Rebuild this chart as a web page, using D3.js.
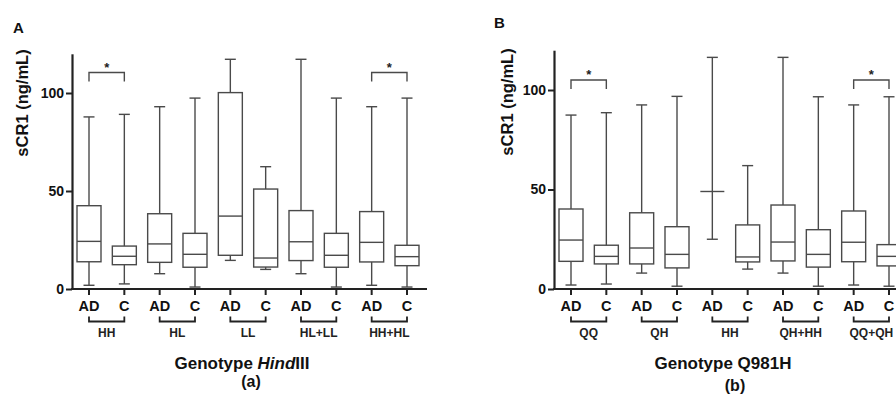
<!DOCTYPE html>
<html><head><meta charset="utf-8">
<script src="https://cdn.jsdelivr.net/npm/d3@7"></script>
<style>
html,body{margin:0;padding:0;background:#fff;}
svg{display:block;font-family:"Liberation Sans",Arial,sans-serif;}
</style></head>
<body><svg id="c" width="896" height="394"></svg>
<script>
// ---- data ----
const yTicks = [0, 50, 100];
const subCats = ["AD", "C"];

const groupsA = ["HH", "HL", "LL", "HL+LL", "HH+HL"];
const minA    = [1.9, 2.6, 7.8, 1.0, 14.6, 10.0, 7.8, 1.0, 1.9, 1.0];
const q1A     = [13.9, 12.4, 13.6, 11.1, 17.2, 11.2, 14.5, 11.1, 13.8, 11.9];
const medA    = [24.3, 16.7, 23.0, 17.7, 37.2, 15.8, 24.1, 17.2, 23.8, 16.5];
const q3A     = [42.5, 21.9, 38.4, 28.4, 100.2, 51.0, 40.0, 28.4, 39.5, 22.3];
const maxA    = [87.8, 89.1, 93.0, 97.4, 117.2, 62.4, 117.2, 97.4, 93.0, 97.4];
const sigA    = ["HH", "HH+HL"];

const groupsB = ["QQ", "QH", "HH", "QH+HH", "QQ+QH"];
const minB    = [2.0, 2.5, 8.0, 1.4, 25.0, 10.0, 8.0, 1.4, 2.0, 1.4];
const q1B     = [13.9, 12.6, 12.6, 10.6, 49.0, 13.6, 14.1, 11.0, 13.7, 11.6];
const medB    = [24.6, 16.4, 20.6, 17.4, 49.0, 16.1, 23.6, 17.4, 23.5, 16.4];
const q3B     = [40.2, 22.0, 38.3, 31.3, 49.0, 32.2, 42.2, 29.8, 39.2, 22.3];
const maxB    = [87.4, 88.6, 92.5, 96.8, 116.4, 62.0, 116.4, 96.6, 92.5, 96.6];
const sigB    = ["QQ", "QQ+QH"];

const svg = d3.select("#c");
const boxColor = "#4a4a4a";
const axisColor = "#222";

function panel(o) {
  const g = svg.append("g");
  const y = d3.scaleLinear().domain([0, 120]).range([289, o.yTop]);
  const idx = d3.range(o.groups.length * 2);
  const x = d3.scalePoint().domain(idx).range([o.x0, o.x1]);

  // y axis
  const ya = g.append("g").attr("transform", `translate(${o.axisX},0)`)
    .call(d3.axisLeft(y).tickValues(yTicks).tickSize(6).tickSizeOuter(0).tickPadding(2));
  ya.select(".domain").attr("stroke", axisColor).attr("stroke-width", 2.2);
  ya.selectAll(".tick line").attr("stroke", axisColor).attr("stroke-width", 2);
  ya.selectAll(".tick text").attr("font-size", 14).attr("font-weight", "bold")
    .attr("fill", "#111").attr("font-family", "Liberation Sans, Arial, sans-serif");

  // x axis line
  g.append("line").attr("x1", o.axisX - 1).attr("x2", o.xEnd)
    .attr("y1", y(0)).attr("y2", y(0)).attr("stroke", axisColor).attr("stroke-width", 2.2);
  // x ticks + labels
  idx.forEach(i => {
    g.append("line").attr("x1", x(i)).attr("x2", x(i)).attr("y1", y(0)).attr("y2", y(0) + 6)
      .attr("stroke", axisColor).attr("stroke-width", 2);
    g.append("text").attr("x", x(i)).attr("y", 311).attr("text-anchor", "middle")
      .attr("font-size", 14.5).attr("font-weight", "bold").attr("fill", "#111")
      .text(subCats[i % 2]);
  });
  // group brackets
  o.groups.forEach((gr, k) => {
    const a = x(2 * k), b = x(2 * k + 1);
    g.append("path").attr("d", `M${a},316.5V321.5H${b}V316.5`).attr("fill", "none")
      .attr("stroke", axisColor).attr("stroke-width", 1.8);
    g.append("text").attr("x", (a + b) / 2).attr("y", 336.5).attr("text-anchor", "middle")
      .attr("font-size", 12).attr("font-weight", "bold").attr("fill", "#222").text(gr);
  });

  // boxes
  const bw = 24, cw = 11;
  idx.forEach(i => {
    const cx = x(i);
    const bg = g.append("g").attr("stroke", boxColor).attr("stroke-width", 1.4).attr("fill", "none");
    bg.append("line").attr("x1", cx).attr("x2", cx).attr("y1", y(o.max[i])).attr("y2", y(o.q3[i]));
    bg.append("line").attr("x1", cx).attr("x2", cx).attr("y1", y(o.q1[i])).attr("y2", y(o.min[i]));
    bg.append("line").attr("x1", cx - cw / 2).attr("x2", cx + cw / 2).attr("y1", y(o.max[i])).attr("y2", y(o.max[i]));
    bg.append("line").attr("x1", cx - cw / 2).attr("x2", cx + cw / 2).attr("y1", y(o.min[i])).attr("y2", y(o.min[i]));
    bg.append("rect").attr("x", cx - bw / 2).attr("width", bw)
      .attr("y", y(o.q3[i])).attr("height", y(o.q1[i]) - y(o.q3[i]));
    bg.append("line").attr("x1", cx - bw / 2).attr("x2", cx + bw / 2).attr("y1", y(o.med[i])).attr("y2", y(o.med[i]));
  });

  // significance brackets
  o.sig.forEach(gr => {
    const k = o.groups.indexOf(gr);
    const a = x(2 * k), b = x(2 * k + 1);
    g.append("path").attr("d", `M${a},${o.sigY + 9}V${o.sigY}H${b}V${o.sigY + 9}`)
      .attr("fill", "none").attr("stroke", boxColor).attr("stroke-width", 1.4);
    g.append("text").attr("x", (a + b) / 2).attr("y", o.sigY - 1).attr("text-anchor", "middle")
      .attr("font-size", 13).attr("font-weight", "bold").attr("fill", "#222").text("*");
  });

  // y title
  g.append("text").attr("transform", `translate(${o.yTitleX},${o.yTitleY}) rotate(-90)`)
    .attr("text-anchor", "middle").attr("font-size", 16.5).attr("font-weight", "bold")
    .attr("fill", "#111").text("sCR1 (ng/mL)");
  // panel letter
  g.append("text").attr("x", o.letterX).attr("y", o.letterY).attr("font-size", 15)
    .attr("font-weight", "bold").attr("fill", "#111").text(o.letter);
  // x title
  const t = g.append("text").attr("x", o.titleX).attr("y", 369).attr("text-anchor", "middle")
    .attr("font-size", 17).attr("font-weight", "bold").attr("fill", "#111");
  o.title.forEach(p => t.append("tspan").attr("font-style", p.it ? "italic" : "normal").text(p.s));
  g.append("text").attr("x", o.titleX + o.subDx).attr("y", o.subY).attr("text-anchor", "middle")
    .attr("font-size", 16).attr("font-weight", "bold").attr("fill", "#111").text(o.sub);
}

panel({groups: groupsA, min: minA, q1: q1A, med: medA, q3: q3A, max: maxA, sig: sigA,
  yTop: 53.8, x0: 89, x1: 407, axisX: 72, xEnd: 427, sigY: 72.5,
  yTitleX: 28, yTitleY: 103, letter: "A", letterX: 13, letterY: 33,
  titleX: 242, title: [{s: "Genotype "}, {s: "Hind", it: true}, {s: "III"}], sub: "(a)", subY: 387, subDx: 9});

panel({groups: groupsB, min: minB, q1: q1B, med: medB, q3: q3B, max: maxB, sig: sigB,
  yTop: 50.2, x0: 571, x1: 889, axisX: 554, xEnd: 900, sigY: 80,
  yTitleX: 513, yTitleY: 102, letter: "B", letterX: 494, letterY: 28,
  titleX: 723, title: [{s: "Genotype Q981H"}], sub: "(b)", subY: 391, subDx: 12});
</script></body></html>
